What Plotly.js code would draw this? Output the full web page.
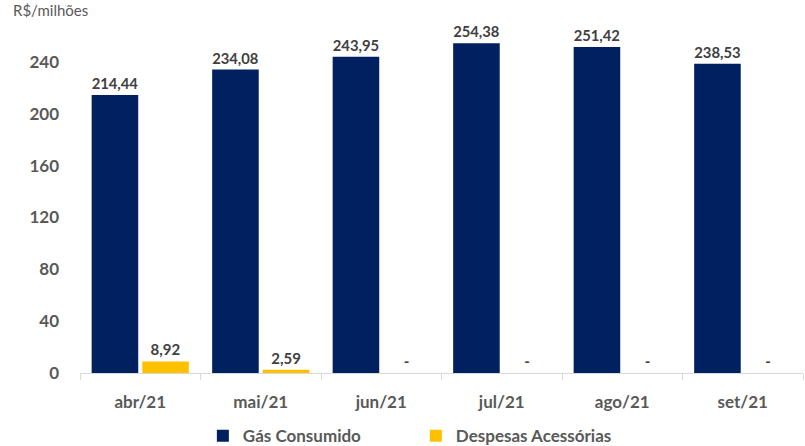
<!DOCTYPE html>
<html>
<head>
<meta charset="utf-8">
<script src="https://cdn.plot.ly/plotly-3.0.1.min.js"></script>
<style>html,body{margin:0;padding:0;background:#fff;}#chart{width:805px;height:446px;}</style>
</head>
<body>
<div id="chart"></div>
<script>
const categories = ['abr/21', 'mai/21', 'jun/21', 'jul/21', 'ago/21', 'set/21'];
const gasConsumido = [214.44, 234.08, 243.95, 254.38, 251.42, 238.53];
const despesasAcessorias = [8.92, 2.59, 0, 0, 0, 0];
const yTicks = [0, 40, 80, 120, 160, 200, 240];

const fmt = v => v === 0 ? '-' : v.toFixed(2).replace('.', ',');
const FONT = 'Lato, "Open Sans", sans-serif';
const labelFont = {family: FONT, size: 15, color: '#404040', weight: 'bold'};

const traces = [
  {
    type: 'bar', name: 'Gás Consumido', x: categories, y: gasConsumido,
    marker: {color: '#002060'},
    text: gasConsumido.map(fmt), textposition: 'outside', textfont: labelFont,
    cliponaxis: false, hoverinfo: 'none'
  },
  {
    type: 'bar', name: 'Despesas Acessórias', x: categories, y: despesasAcessorias,
    marker: {color: '#FFC000'},
    text: despesasAcessorias.map(fmt), textposition: 'outside', textfont: labelFont,
    cliponaxis: false, hoverinfo: 'none'
  }
];

const layout = {
  width: 805, height: 446,
  margin: {l: 80, r: 2, t: 10, b: 73},
  paper_bgcolor: '#fff', plot_bgcolor: '#fff',
  barmode: 'group', bargap: 0.16, bargroupgap: 0.08,
  font: {family: FONT, color: '#595959'},
  showlegend: true,
  legend: {
    orientation: 'h', x: 0.252, xanchor: 'left', xref: 'container',
    y: 0.022, yanchor: 'middle', yref: 'container',
    font: {family: FONT, size: 17, color: '#595959', weight: 'bold'},
    itemwidth: 30, traceorder: 'normal',
    entrywidth: 168, entrywidthmode: 'pixels'
  },
  xaxis: {
    type: 'category', tickson: 'boundaries', ticks: 'outside', ticklen: 6,
    tickcolor: '#d9d9d9', showline: true, linecolor: '#d9d9d9', linewidth: 1,
    tickfont: {family: FONT, size: 17, color: '#595959', weight: 'bold'},
    ticklabelstandoff: 14,
    showgrid: false, zeroline: false, fixedrange: true
  },
  yaxis: {
    range: [0, 280], tickvals: yTicks, ticktext: yTicks.map(String),
    showgrid: false, zeroline: false, showline: false,
    ticks: '', ticklabelstandoff: 20,
    tickfont: {family: FONT, size: 17, color: '#595959', weight: 'bold'},
    fixedrange: true
  },
  annotations: [{
    text: 'R$/milhões', xref: 'paper', yref: 'paper', x: -0.095, y: 1.0,
    xanchor: 'left', yanchor: 'middle', showarrow: false,
    font: {family: FONT, size: 15, color: '#595959'}
  }]
};

Plotly.newPlot('chart', traces, layout, {displayModeBar: false, staticPlot: true});
</script>
</body>
</html>
